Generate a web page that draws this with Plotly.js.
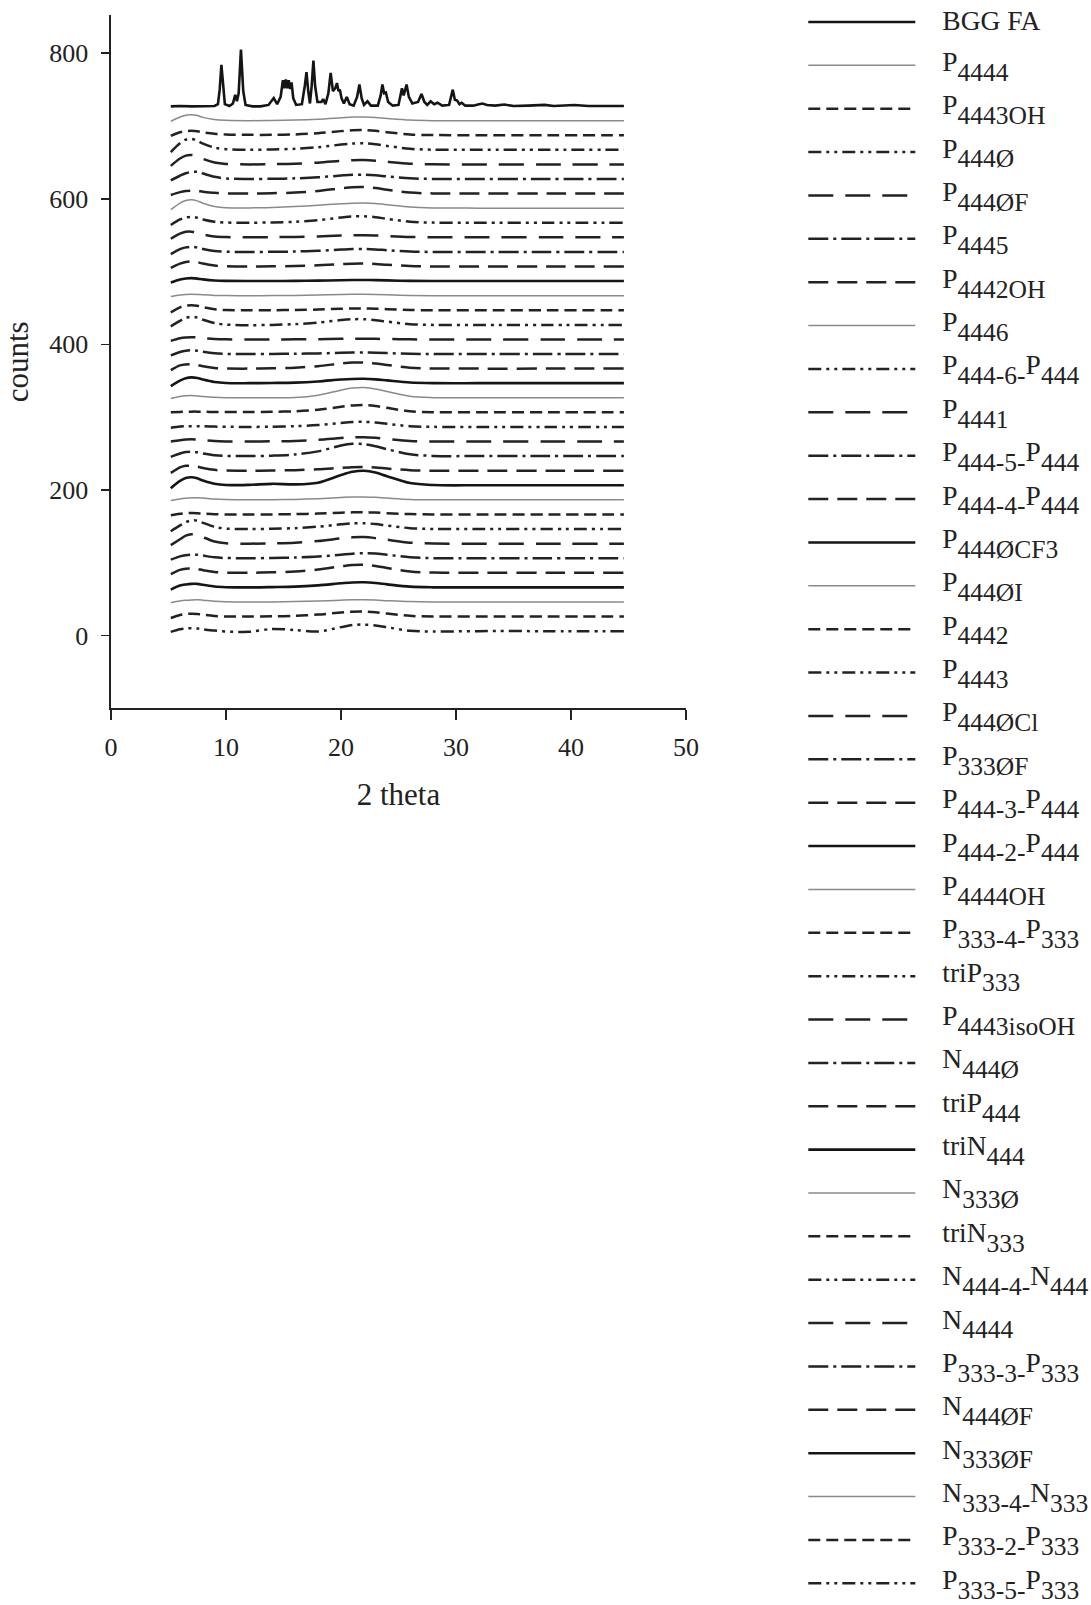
<!DOCTYPE html>
<html><head><meta charset="utf-8">
<script src="https://cdn.plot.ly/plotly-3.0.1.min.js"></script>
<style>html,body{margin:0;padding:0;background:#fff}</style>
</head><body><div id="chart" style="width:1091px;height:1605px"></div>
<script>
// ---------- DATA ----------
const seriesNames = ['BGG FA','P{4444}','P{4443OH}','P{444Ø}','P{444ØF}','P{4445}','P{4442OH}','P{4446}',
 'P{444-6-}P{444}','P{4441}','P{444-5-}P{444}','P{444-4-}P{444}','P{444ØCF3}','P{444ØI}','P{4442}','P{4443}',
 'P{444ØCl}','P{333ØF}','P{444-3-}P{444}','P{444-2-}P{444}','P{4444OH}','P{333-4-}P{333}','triP{333}',
 'P{4443isoOH}','N{444Ø}','triP{444}','triN{444}','N{333Ø}','triN{333}','N{444-4-}N{444}','N{4444}',
 'P{333-3-}P{333}','N{444ØF}','N{333ØF}','N{333-4-}N{333}','P{333-2-}P{333}','P{333-5-}P{333}'];
const seriesStyle = ['thick','thin','short','ddd','long','dashdot','medium','thin','ddd','long','dashdot','medium',
 'thick','thin','short','ddd','long','dashdot','medium','thick','thin','short','ddd','long','dashdot','medium',
 'thick','thin','short','ddd','long','dashdot','medium','thick','thin','short','ddd'];

// BGG FA crystalline pattern (2 theta, counts)
const bggX = [5.2,6,7,8,9,9.3,9.45,9.6,9.75,9.9,10.3,10.6,10.8,10.95,11.1,11.3,11.5,11.7,12.3,13.0,13.7,14.15,14.45,14.75,
 14.95,15.07,15.2,15.33,15.45,15.58,15.7,15.85,16.1,16.6,16.85,17.0,17.15,17.3,17.45,17.6,17.75,17.95,18.3,18.45,18.65,
 18.9,19.1,19.3,19.5,19.65,19.78,19.9,20.05,20.25,20.5,20.75,21.1,21.4,21.6,21.8,22.0,22.3,22.6,23.2,23.45,23.6,23.75,
 23.9,24.1,24.5,25.0,25.15,25.3,25.45,25.7,25.9,26.2,26.7,27.0,27.25,27.5,27.8,28.1,28.4,28.8,29.4,29.6,29.72,29.9,
 30.1,30.3,30.5,30.8,31.5,32.0,32.3,32.7,33.4,34.2,35.0,36.3,37.7,38.5,40.3,41.5,42.5,44.6];
const bggY = [727,727.5,727,727,727.5,730,750,784,752,730,727.5,731,743,734,745,805,748,729,727,727,729,738.5,730,740,
 763,752,764,752,763,751,760,738,729,730,755,774,748,731,755,790,755,733,733,737,730,
 745,773,748,752,759,748,750,738,731,740,730,728,740,757,738,729,734,728,728,742,757,745,
 746,733,728,729,740,752,742,757,740,731,733,744,733,729,734,730,732,728,729,740,750,736,
 735,730,732,728,728,730,731,729,728,729.5,727.5,728,729,727.5,729,727.5,727.5,727.5];

// common 2 theta grid for the amorphous patterns
const gridX = [5.2,6,6.5,7,7.5,8,9,10,12,14,16,18,20,21,22,23,24,26,28,32,38,44.6];
// baseline (vertical offset) of each stacked pattern, legend order from P4444 down
const baseline = [707.4,687.4,667.3,647.3,627.2,607.2,587.2,567.1,547.1,527.0,507.0,487.0,466.9,446.9,426.8,406.8,
 386.8,366.7,346.7,326.6,306.6,286.6,266.5,246.5,226.4,206.4,186.4,166.3,146.3,126.2,106.2,86.2,66.1,46.1,26.0,6.0];

// intensity above baseline on gridX
const p4444      = [-1,5,7.5,8,7,4.5,1.5,0.5,0,0.3,0.8,2,4,5,5,4.3,3,0.8,0,0,0,0];
const p4443OH    = [-1,4,5.5,6,5.5,4,2,1,0.5,0.5,1,2.8,5.6,6.8,7,6,4.2,1,0.2,0,0,0];
const p444phi    = [-3,9,14,15,12.5,8.5,3,0.8,0,0.5,1.4,3.6,7.2,8.7,9,7.6,5.4,1.4,0.2,0,0,0];
const p444phiF   = [-2,8,12,13,11,7.5,2.6,0.6,0,0.3,0.9,2.4,4.8,5.8,6,5.1,3.6,0.9,0.1,0,0,0];
const p4445      = [-2,4.5,8,9.7,9.8,7.5,3,0.8,0,0.3,0.9,2.4,4.8,5.8,6,5.1,3.6,0.9,0.1,0,0,0];
const p4442OH    = [-2,2,3.5,4,3.6,2.6,1,0.3,0,0.5,1.4,3.6,7.2,8.7,9,7.6,5.4,1.4,0.2,0,0,0];
const p4446      = [-2,7,10.5,11.5,10,6.8,2.3,0.6,0.3,1,2.2,4,6,6.8,7,6.2,4.8,1.6,0.3,0,0,0];
const p444_6_p444= [-3,4.5,7.2,8,6.8,4.6,1.5,0.3,0,0.5,1.4,3.6,7.2,8.7,9,7.6,5.4,1.4,0.2,0,0,0];
const p4441      = [-2,5,7.6,7.8,6.2,4,1.2,0.3,0,0.2,0.5,1.2,2.4,2.9,3,2.6,1.8,0.5,0,0,0,0];
const p444_5_p444= [-3,4,6.3,7,6,4,1.3,0.3,0,0.2,0.6,1.6,3.2,3.9,4,3.4,2.4,0.6,0,0,0,0];
const p444_4_p444= [-2,4,6.3,7,6,4,1.3,0.3,0,0.2,0.6,1.6,3.2,3.9,4,3.4,2.4,0.6,0,0,0,0];
const p444phiCF3 = [-2,2.2,3.6,4,3.4,2.3,0.8,0.2,0,0.1,0.2,0.6,1.2,1.4,1.5,1.3,0.9,0.2,0,0,0,0];
const p444phiI   = [-1,1,1.8,2,1.8,1.2,0.4,0.1,0,0.1,0.3,0.8,1.6,1.9,2,1.7,1.2,0.3,0,0,0,0];
const p4442      = [-3,4,6.3,7,6.2,4.2,1.4,0.3,0,0.1,0.4,1,2,2.4,2.5,2.1,1.5,0.4,0,0,0,0];
const p4443      = [-2,5.5,9.5,11,10,7,2.5,0.4,-0.5,0,1,3.2,6.6,7.8,7.8,6.5,4.5,1,0,0,0,0];
const p444phiCl  = [-2,1.5,2.6,3,2.7,1.8,0.6,0.1,0,0,0.1,0.4,0.8,1,1,0.8,0.6,0.1,0,0,0,0];
const p333phiF   = [-2,2.8,4.5,5,4.3,3,1,0.2,0,0.1,0.3,0.8,1.6,1.9,2,1.7,1.2,0.3,0,0,0,0];
const p444_3_p444= [-2,4.5,5.8,6,5,3.3,1,0.2,0,0.4,1.3,3.4,7,8.3,8.4,7,5,1.3,0.2,0,0,0];
const p444_2_p444= [-4,3.5,6.8,8,7.2,5,1.6,0.2,0,0.3,0.8,2.4,5,5.8,6,5.2,3.8,1,0.1,0,0,0];
const p4444OH    = [-1,1.7,2.7,3,2.6,1.8,0.6,0.1,0,0,0.3,3.5,10.5,13.3,14,12.2,8.7,2,0.2,0,0,0];
const p333_4_p333= [0,0.6,0.9,1,1,0.8,0.5,0.4,0.5,0.8,1.5,3.5,7.6,9.5,10,8.7,6.2,1.5,0.2,0,0,0];
const triP333    = [-1,0.5,0.9,1,1,0.8,0.4,0.2,0,0.3,1,2.6,5.5,6.7,7,6,4.2,1,0.1,0,0,0];
const p4443isoOH = [0,1.8,2.7,3,2.7,2,0.7,0.2,0,0.3,0.9,2.4,4.8,5.8,6,5.1,3.6,0.9,0.1,0,0,0];
const n444phi    = [-1,3.5,5.5,6,5.2,3.6,1.2,0.2,0,0.6,2.2,6.5,14.5,16.8,16.5,13.5,9.5,2.5,0.3,0,0,0];
const triP444    = [-3,4.7,6.8,6.8,5.6,3.8,1.2,0.2,0,0.3,0.8,2,4,4.8,5,4.3,3,0.8,0,0,0,0];
const triN444    = [-4,6,10,11,9.5,6.5,2,0.3,0.6,2,1.2,3.5,14,18.5,20,17.5,12.5,3,0.3,0,0,0];
const n333phi    = [-1,1.3,2.2,2.8,3,2.5,1,0.3,0,0.2,0.6,1.6,3.2,3.9,4,3.4,2.4,0.6,0,0,0,0];
const triN333    = [-1,1,1.7,2,1.8,1.2,0.4,0.1,0,0.1,0.5,1.2,2.4,2.9,3,2.6,1.8,0.5,0,0,0,0];
const n444_4_n444= [-3,5,9.5,11.8,11.5,8.5,3,0.6,0,0.4,1.2,3.2,6.4,7.8,8,6.8,4.8,1.2,0.1,0,0,0];
const n4444      = [-2,6,11,13,12.5,9,3,0.5,0,0.5,1.4,3.6,7.2,8.7,9,7.6,5.4,1.4,0.2,0,0,0];
const p333_3_p333= [-2,2.5,4,4.8,4.8,3.6,1.2,0.3,0,0.3,0.9,2.2,4.8,6.2,6.9,6.5,4.8,1.3,0.1,0,0,0];
const n444phiF   = [-2,4,5.6,6,5.2,3.6,1.2,0.2,0,0.6,1.7,4.4,8.8,10.7,11,9.4,6.6,1.7,0.2,0,0,0];
const n333phiF   = [-3,2.5,4,4.8,4.8,3.6,1.2,0.3,0,0.4,1,2.8,5.6,6.8,7,6,4.2,1,0.1,0,0,0];
const n333_4_n333= [-1,1.3,2.2,2.8,3,2.5,1,0.3,0,0.1,0.5,1.2,2.4,2.9,3,2.6,1.8,0.5,0,0,0,0];
const p333_2_p333= [-2,2.2,3.5,4,3.7,2.7,0.9,0.2,0,0.3,1,2.8,5.6,6.8,7,6,4.2,1,0.1,0,0,0];
const p333_5_p333= [-1,2.5,3.6,4,3.6,2.6,0.8,-0.5,-1,3,1.5,-0.5,5.5,8.3,9,7.7,5.4,0.5,-0.5,0,0,0];

const seriesValues = [p4444,p4443OH,p444phi,p444phiF,p4445,p4442OH,p4446,p444_6_p444,p4441,p444_5_p444,
 p444_4_p444,p444phiCF3,p444phiI,p4442,p4443,p444phiCl,p333phiF,p444_3_p444,p444_2_p444,p4444OH,p333_4_p333,
 triP333,p4443isoOH,n444phi,triP444,triN444,n333phi,triN333,n444_4_n444,n4444,p333_3_p333,n444phiF,n333phiF,
 n333_4_n333,p333_2_p333,p333_5_p333];

// ---------- STYLE ----------
const styles = {
  thick:   {color:'#151515', width:2.6, dash:'solid'},
  thin:    {color:'#8a8a8a', width:1.5, dash:'solid'},
  short:   {color:'#222', width:2.5, dash:'12px,6px'},
  ddd:     {color:'#222', width:2.5, dash:'13px,5px,3px,5px,3px,5px'},
  long:    {color:'#222', width:2.5, dash:'25px,12px'},
  dashdot: {color:'#222', width:2.5, dash:'20px,5px,3px,5px'},
  medium:  {color:'#222', width:2.5, dash:'20px,9px'}
};
const GAP = '<span style="font-size:22px">\u00a0\u00a0\u00a0\u00a0</span>';
function fmt(s){
  if(s.indexOf('{') < 0) {
    // plain label: sits a little lower next to its key, as in the original legend
    return GAP + '<sub><span style="font-size:27.5px">' + s + '</span></sub>';
  }
  return GAP + '<span style="font-size:27.5px">' +
    s.replace(/\{([^}]*)\}/g, '<sub><sub><span style="font-size:25.5px">$1</span></sub></sub>') + '</span>';
}

const traces = [];
traces.push({x:bggX, y:bggY, type:'scatter', mode:'lines', name:fmt(seriesNames[0]), legendgroup:'g0',
  line:Object.assign({}, styles[seriesStyle[0]], {shape:'linear'})});
for(let i=1;i<seriesNames.length;i++){
  const vals = seriesValues[i-1].map(v => v + baseline[i-1]);
  traces.push({x:gridX, y:vals, type:'scatter', mode:'lines', name:fmt(seriesNames[i]), legendgroup:'g'+i,
    line:Object.assign({}, styles[seriesStyle[i]], {shape:'spline', smoothing:0.9})});
}

const axisCommon = {showline:true, linecolor:'#222', linewidth:1.6, ticks:'outside', tickcolor:'#222', tickwidth:1.6,
  showgrid:false, zeroline:false, automargin:false, fixedrange:true};

const layout = {
  width:1091, height:1605,
  paper_bgcolor:'#fff', plot_bgcolor:'#fff',
  font:{family:'Liberation Serif, Times New Roman, serif', size:26, color:'#222'},
  margin:{l:110.7, r:405.3, t:0, b:0, autoexpand:false},
  showlegend:true,
  xaxis:Object.assign({}, axisCommon, {range:[0,50], tick0:0, dtick:10, ticklen:10, ticklabelstandoff:5,
    title:{text:'2 theta', standoff:22}}),
  yaxis:Object.assign({}, axisCommon, {domain:[0.5587,0.9904], range:[-100,852], tick0:0, dtick:200, ticklen:8,
    ticklabelstandoff:8, title:{text:'counts', standoff:12}}),
  legend:{x:1.204, xanchor:'left', y:0.99601, yanchor:'top', traceorder:'grouped', tracegroupgap:22.17,
    itemwidth:107, font:{family:'Liberation Serif, Times New Roman, serif', size:14, color:'#222'},
    bgcolor:'rgba(0,0,0,0)', borderwidth:0}
};
Plotly.newPlot('chart', traces, layout, {staticPlot:true, displayModeBar:false});
</script></body></html>
